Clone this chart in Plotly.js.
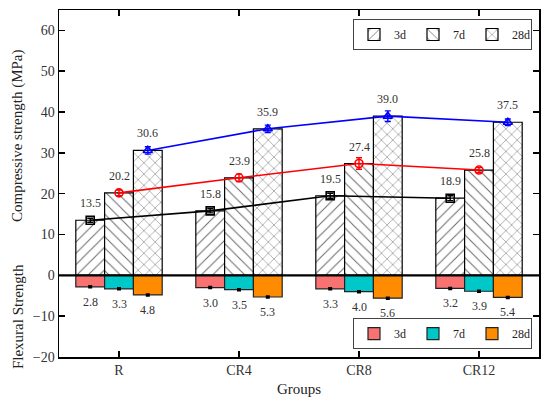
<!DOCTYPE html>
<html>
<head>
<meta charset="utf-8">
<script src="https://cdn.plot.ly/plotly-3.0.1.min.js"></script>
<style>html,body{margin:0;padding:0;background:#fff;}#chart{width:550px;height:405px;}</style>
</head>
<body>
<div id="chart"></div>
<script>
const groups = ["R", "CR4", "CR8", "CR12"];
const ages = ["3d", "7d", "28d"];
const comp3d = [13.5, 15.8, 19.5, 18.9];
const comp7d = [20.2, 23.9, 27.4, 25.8];
const comp28d = [30.6, 35.9, 39.0, 37.5];
const compErr3d = [0.5, 0.5, 0.6, 0.6];
const compErr7d = [0.7, 0.9, 1.4, 0.6];
const compErr28d = [0.9, 0.9, 1.3, 0.8];
const flex3d = [2.8, 3.0, 3.3, 3.2];
const flex7d = [3.3, 3.5, 4.0, 3.9];
const flex28d = [4.8, 5.3, 5.6, 5.4];
const flexErr = [0.12, 0.12, 0.12, 0.12];

const FONT = "'Liberation Serif', 'DejaVu Serif', serif";
const W = 0.24;
const offsets = [-1.5 * W, -0.5 * W, 0.5 * W];
const xs = groups.map((g, i) => i);
const comp = [comp3d, comp7d, comp28d];
const compErr = [compErr3d, compErr7d, compErr28d];
const flex = [flex3d, flex7d, flex28d];
const patterns = ["/", "\\", "x"];
const flexColors = ["#F87272", "#00C8C8", "#FF8C00"];
const lineColors = ["#000000", "#FF0000", "#0000FF"];
const symbols = ["square-open", "circle-open", "triangle-up-open"];

const traces = [];
ages.forEach((a, k) => {
  traces.push({
    type: "bar", x: xs, y: comp[k], width: W, offset: offsets[k], name: a,
    legend: "legend",
    marker: { color: "#ffffff", line: { color: "#000", width: 1.2 },
      pattern: { shape: patterns[k], fgcolor: "#666", bgcolor: "#fff", size: 8, solidity: 0.12 } },
    hoverinfo: "skip"
  });
});
ages.forEach((a, k) => {
  traces.push({
    type: "bar", x: xs, y: flex[k].map(v => -v), width: W, offset: offsets[k], name: a,
    legend: "legend2",
    marker: { color: flexColors[k], line: { color: "#222", width: 1.2 } },
    error_y: { type: "data", array: flexErr, color: "#000", thickness: 2.5, width: 2 },
    hoverinfo: "skip"
  });
});
ages.forEach((a, k) => {
  traces.push({
    type: "scatter", mode: "lines+markers",
    x: xs.map(x => x + offsets[k] + W / 2), y: comp[k],
    line: { color: lineColors[k], width: 1.6 },
    marker: { symbol: symbols[k], size: 8, color: lineColors[k], line: { width: 1.6, color: lineColors[k] } },
    error_y: { type: "data", array: compErr[k], color: lineColors[k], thickness: 1.4, width: 3 },
    showlegend: false, hoverinfo: "skip"
  });
});

const annotations = [];
ages.forEach((a, k) => {
  xs.forEach((x, i) => {
    annotations.push({ x: x + offsets[k] + W / 2, y: comp[k][i], xref: "x", yref: "y",
      text: comp[k][i].toFixed(1), showarrow: false, yanchor: "bottom", yshift: 8,
      font: { family: FONT, size: 12, color: "#333" } });
    annotations.push({ x: x + offsets[k] + W / 2, y: -flex[k][i], xref: "x", yref: "y",
      text: flex[k][i].toFixed(1), showarrow: false, yanchor: "top", yshift: -6,
      font: { family: FONT, size: 12, color: "#333" } });
  });
});
annotations.push({ xref: "paper", yref: "paper", x: 0, y: 0.637, xshift: -41, textangle: -90,
  text: "Compressive strength (MPa)", showarrow: false, xanchor: "center", yanchor: "middle",
  font: { family: FONT, size: 15, color: "#222" } });
annotations.push({ xref: "paper", yref: "paper", x: 0, y: 0.115, xshift: -41, textangle: -90,
  text: "Flexural Strength", showarrow: false, xanchor: "center", yanchor: "middle",
  font: { family: FONT, size: 15, color: "#222" } });

const legendCommon = {
  orientation: "h", xanchor: "left", yanchor: "top",
  bordercolor: "#444", borderwidth: 1, bgcolor: "#fff",
  font: { family: FONT, size: 12, color: "#222" }, entrywidth: 14, itemwidth: 30,
  traceorder: "normal"
};

const layout = {
  width: 550, height: 405,
  margin: { l: 59, r: 11, t: 10, b: 48, autoexpand: false },
  paper_bgcolor: "#fff", plot_bgcolor: "#fff",
  barmode: "overlay",
  font: { family: FONT, color: "#222" },
  xaxis: {
    range: [-0.5, 3.5], tickvals: xs, ticktext: groups, automargin: false,
    showline: true, mirror: "ticks", linecolor: "#000", linewidth: 1.5,
    ticks: "inside", ticklen: 6, tickwidth: 1.5, tickcolor: "#000",
    showgrid: false, zeroline: false,
    tickfont: { family: FONT, size: 14, color: "#333" },
    title: { text: "Groups", font: { family: FONT, size: 15, color: "#222" }, standoff: 6 }
  },
  yaxis: {
    range: [-20, 65], tickvals: [-20, -10, 0, 10, 20, 30, 40, 50, 60], automargin: false,
    ticktext: ["\u221220", "\u221210", "0", "10", "20", "30", "40", "50", "60"],
    showline: true, mirror: "ticks", linecolor: "#000", linewidth: 1.5,
    ticks: "inside", ticklen: 6, tickwidth: 1.5, tickcolor: "#000",
    showgrid: false, zeroline: false,
    tickfont: { family: FONT, size: 14, color: "#333" }
  },
  shapes: [{ type: "line", xref: "paper", yref: "y", x0: 0, x1: 1, y0: 0, y1: 0,
    line: { color: "#000", width: 2.2 }, layer: "above" }],
  legend: Object.assign({}, legendCommon, { x: 0.6125, y: 0.974 }),
  legend2: Object.assign({}, legendCommon, { x: 0.6125, y: 0.112 }),
  annotations: annotations
};

Plotly.newPlot("chart", traces, layout, { displayModeBar: false, staticPlot: true });
</script>
</body>
</html>
